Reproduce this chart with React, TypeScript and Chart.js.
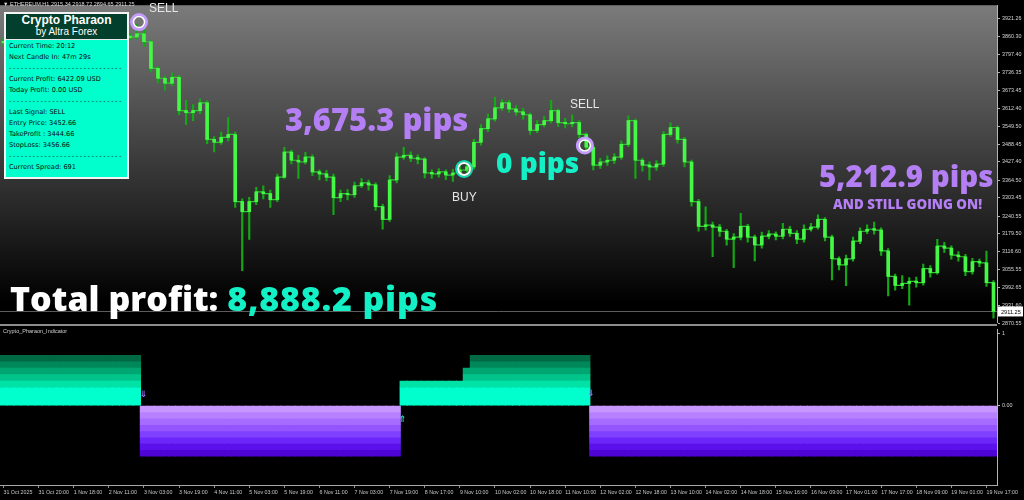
import React, { useEffect, useRef } from 'react';
import { Chart, registerables } from 'chart.js';
Chart.register(...registerables);

// ---------- data ----------
const chartTitle = '\u25BC ETHEREUM,H1  2915.34 2918.72 2894.65 2911.25';
const indicatorName = 'Crypto_Pharaon_Indicator';
const xTickLabels = ['31 Oct 2025', '31 Oct 20:00', '1 Nov 18:00', '2 Nov 11:00', '3 Nov 03:00', '3 Nov 19:00', '4 Nov 11:00', '5 Nov 03:00', '5 Nov 19:00', '6 Nov 11:00', '7 Nov 03:00', '7 Nov 19:00', '8 Nov 17:00', '9 Nov 10:00', '10 Nov 02:00', '10 Nov 18:00', '11 Nov 10:00', '12 Nov 02:00', '12 Nov 18:00', '13 Nov 10:00', '14 Nov 02:00', '14 Nov 18:00', '15 Nov 16:00', '16 Nov 09:00', '17 Nov 01:00', '17 Nov 17:00', '18 Nov 09:00', '19 Nov 01:00', '19 Nov 17:00'];
const barsPerTick = 5;
const priceTicks = [3921.26, 3860.30, 3797.40, 3736.35, 3673.45, 3612.40, 3549.50, 3488.45, 3427.40, 3364.50, 3303.45, 3240.55, 3179.50, 3116.60, 3055.55, 2992.65, 2931.60, 2870.55];
const priceMin = 2874.9;
const priceMax = 3967.9;
const firstOpen = 3838;
const closes = [
  3842, 3849, 3835, 3828, 3842, 3852, 3859, 3845, 3835, 3822,
  3832, 3842, 3849, 3856, 3845, 3852, 3862, 3856, 3859, 3869,
  3842, 3750, 3716, 3699, 3719, 3604, 3597, 3604, 3631, 3505,
  3495, 3512, 3522, 3290, 3256, 3290, 3324, 3318, 3297, 3375,
  3461, 3433, 3427, 3444, 3393, 3386, 3375, 3304, 3318, 3314,
  3345, 3355, 3348, 3273, 3229, 3365, 3444, 3450, 3440, 3437,
  3389, 3386, 3393, 3382, 3389, 3399, 3410, 3495, 3542, 3576,
  3614, 3631, 3610, 3600, 3590, 3536, 3556, 3570, 3604, 3563,
  3559, 3563, 3522, 3478, 3416, 3427, 3433, 3444, 3488, 3570,
  3433, 3416, 3410, 3420, 3522, 3546, 3505, 3427, 3290, 3205,
  3209, 3202, 3188, 3161, 3168, 3205, 3168, 3141, 3171, 3178,
  3171, 3195, 3181, 3161, 3195, 3202, 3229, 3168, 3093, 3072,
  3093, 3154, 3188, 3195, 3192, 3120, 3032, 3001, 3008, 3015,
  3011, 3059, 3045, 3137, 3130, 3106, 3100, 3049, 3083, 3079,
  3011, 2911.25,
];
const highs = [
  3856, 3862, 3858, 3844, 3853, 3866, 3872, 3868, 3852, 3841,
  3843, 3855, 3861, 3868, 3864, 3862, 3874, 3869, 3871, 3903,
  3886, 3848, 3756, 3724, 3735, 3726, 3640, 3625, 3645, 3638,
  3515, 3530, 3580, 3530, 3300, 3305, 3340, 3345, 3330, 3385,
  3478, 3468, 3450, 3460, 3452, 3400, 3398, 3385, 3330, 3332,
  3358, 3370, 3365, 3355, 3282, 3380, 3458, 3478, 3462, 3452,
  3442, 3400, 3404, 3400, 3402, 3412, 3425, 3505, 3556, 3592,
  3650, 3642, 3640, 3622, 3612, 3596, 3570, 3584, 3640, 3610,
  3578, 3590, 3570, 3528, 3484, 3440, 3448, 3456, 3500, 3586,
  3576, 3440, 3428, 3432, 3532, 3562, 3552, 3512, 3434, 3298,
  3272, 3220, 3212, 3195, 3180, 3250, 3212, 3175, 3185, 3190,
  3186, 3215, 3205, 3190, 3210, 3215, 3245, 3235, 3175, 3100,
  3106, 3168, 3200, 3210, 3220, 3200, 3128, 3040, 3035, 3028,
  3030, 3075, 3070, 3160, 3150, 3138, 3118, 3108, 3095, 3092,
  3120, 3018,
];
const lows = [
  3826, 3835, 3822, 3815, 3820, 3834, 3845, 3836, 3824, 3809,
  3812, 3826, 3834, 3841, 3836, 3838, 3845, 3846, 3848, 3850,
  3826, 3738, 3700, 3675, 3690, 3590, 3556, 3570, 3594, 3490,
  3462, 3488, 3500, 3270, 3052, 3160, 3280, 3300, 3270, 3290,
  3370, 3420, 3370, 3420, 3380, 3365, 3362, 3245, 3290, 3296,
  3305, 3338, 3330, 3260, 3195, 3222, 3355, 3436, 3428, 3420,
  3372, 3370, 3375, 3366, 3360, 3380, 3392, 3402, 3485, 3532,
  3568, 3605, 3598, 3588, 3575, 3522, 3528, 3548, 3562, 3550,
  3545, 3548, 3510, 3466, 3400, 3405, 3415, 3422, 3436, 3480,
  3370, 3395, 3365, 3398, 3412, 3515, 3492, 3410, 3275, 3188,
  3192, 3100, 3170, 3140, 3062, 3158, 3150, 3086, 3130, 3162,
  3158, 3162, 3170, 3145, 3150, 3188, 3195, 3155, 3020, 3055,
  3000, 3085, 3145, 3180, 3178, 3105, 2965, 2985, 2990, 2933,
  2995, 3002, 3030, 3040, 3115, 3092, 3085, 3035, 3040, 3066,
  2998, 2888,
];
const lastPrice = 2911.25;
const signalNames = ['SELL', 'BUY', 'SELL'];
const signalBar = [19.3, 65.6, 82.8];
const signalPrice = [3910, 3403, 3484];

// indicator panel
const segStart = [0, 20, 57, 66, 67, 84];
const segEnd = [19, 56, 65, 66, 83, 141];
const segTiers = [6, -8, 2, 4, 6, -8];
const greenBandHeights = [0.25, 0.089, 0.089, 0.089, 0.089, 0.089];
const purpleBandHeights = [0.087, 0.087, 0.087, 0.087, 0.087, 0.087, 0.087, 0.087];
const indicatorTicks = [1, 0];
const indMin = -1.095;
const indMax = 1.054;
const arrowBar = [19.9, 56.8, 83.6];
const arrowLevel = [0.15, -0.19, 0.16];
const arrowDir = ['down', 'up', 'down'];

// info panel
const panelTitle = 'Crypto Pharaon';
const panelSubtitle = 'by Altra Forex';
const panelLines = ['Current Time: 20:12', 'Next Candle In: 47m 29s', '-', 'Current Profit: 6422.09 USD', 'Today Profit: 0.00 USD', '-', 'Last Signal: SELL', 'Entry Price: 3452.66', 'TakeProfit : 3444.66', 'StopLoss: 3456.66', '-', 'Current Spread: 691'];
const separatorText = '-----------------------------';

// ---------- styles ----------
const greenColors = ['#00ffcc', '#00e2a6', '#00c48b', '#00a672', '#00885a', '#006a44'];
const purpleColors = ['#c896ff', '#b780ff', '#a66bff', '#9455ff', '#8040ff', '#6d26fa', '#5c10ec', '#4e04d4'];
const PURPLE = '#b47ef4';
const TEAL = '#14f0c6';
const BIG_FONT = "'Open Sans', 'DejaVu Sans', sans-serif";
const SMALL_FONT = "'Liberation Sans', Arial, sans-serif";
const X_MIN = -0.5;
const X_MAX = closes.length - 0.5;

export default function App() {
  const mainRef = useRef<HTMLCanvasElement>(null);
  const indRef = useRef<HTMLCanvasElement>(null);

  useEffect(() => {
    const opens = closes.map((c, i) => (i === 0 ? firstOpen : closes[i - 1]));
    const wickData = closes.map((_, i) => ({ x: i, y: [lows[i], highs[i]] }));
    const bodyData = closes.map((c, i) => ({ x: i, y: [opens[i], c] }));
    const closeLine = closes.map((c, i) => ({ x: i, y: c }));
    const sellPts = signalNames.map((n, k) => (n === 'SELL' ? { x: signalBar[k], y: signalPrice[k] } : null)).filter(Boolean);
    const buyPts = signalNames.map((n, k) => (n === 'BUY' ? { x: signalBar[k], y: signalPrice[k] } : null)).filter(Boolean);

    const mainPlugin = {
      id: 'mainDecor',
      beforeDraw(chart: any) {
        const { ctx, chartArea: a } = chart;
        const g = ctx.createLinearGradient(0, a.top, 0, a.bottom);
        g.addColorStop(0, '#7b7b7b');
        g.addColorStop(0.94, '#000000');
        g.addColorStop(1, '#000000');
        ctx.save();
        ctx.fillStyle = g;
        ctx.fillRect(a.left, a.top, a.right - a.left, a.bottom - a.top);
        ctx.restore();
      },
      beforeDatasetsDraw(chart: any) {
        const { ctx, chartArea: a } = chart;
        const y = Math.round(chart.scales.y.getPixelForValue(lastPrice)) + 0.5;
        ctx.save();
        ctx.strokeStyle = '#5c5c5c';
        ctx.lineWidth = 1;
        ctx.beginPath();
        ctx.moveTo(a.left, y);
        ctx.lineTo(a.right, y);
        ctx.stroke();
        ctx.restore();
      },
      afterDraw(chart: any) {
        const { ctx, chartArea: a } = chart;
        const y = chart.scales.y.getPixelForValue(lastPrice);
        ctx.save();
        ctx.fillStyle = '#ffffff';
        ctx.fillRect(a.right + 1, y - 5, 25, 10);
        ctx.fillStyle = '#000000';
        ctx.font = '5.6px "Liberation Sans"';
        ctx.textBaseline = 'middle';
        ctx.fillText(lastPrice.toFixed(2), a.right + 4, y + 0.5);
        ctx.restore();
      },
    };

    const main = new Chart(mainRef.current as HTMLCanvasElement, {
      type: 'bar',
      data: {
        datasets: [
          { type: 'scatter', data: sellPts, pointRadius: 5.5, pointBorderWidth: 1.5, pointBorderColor: '#ffffff', pointBackgroundColor: 'rgba(0,0,0,0)', order: 0 } as any,
          { type: 'scatter', data: sellPts, pointRadius: 7.5, pointBorderWidth: 3, pointBorderColor: '#c49cff', pointBackgroundColor: 'rgba(0,0,0,0)', order: 1 } as any,
          { type: 'scatter', data: buyPts, pointRadius: 6, pointBorderWidth: 2, pointBorderColor: '#f2fffb', pointBackgroundColor: 'rgba(0,0,0,0)', order: 0 } as any,
          { type: 'scatter', data: buyPts, pointRadius: 8, pointBorderWidth: 2, pointBorderColor: '#10d8b0', pointBackgroundColor: 'rgba(0,0,0,0)', order: 1 } as any,
          { type: 'bar', data: bodyData, backgroundColor: '#46f846', barThickness: 3, grouped: false, minBarLength: 1.5, order: 3 } as any,
          { type: 'line', data: closeLine, borderColor: '#2cc82c', borderWidth: 1.2, pointRadius: 0, stepped: 'before', order: 4 } as any,
          { type: 'bar', data: wickData, backgroundColor: '#14a814', barThickness: 1.5, grouped: false, order: 5 } as any,
        ],
      },
      options: {
        animation: false,
        responsive: true,
        maintainAspectRatio: false,
        layout: { autoPadding: false, padding: { top: 1, bottom: 8, left: 0, right: 0 } },
        plugins: { legend: { display: false }, tooltip: { enabled: false } },
        scales: {
          x: { type: 'linear', min: X_MIN, max: X_MAX, display: false, offset: false },
          y: {
            position: 'right',
            min: priceMin,
            max: priceMax,
            afterFit: (s: any) => { s.width = 27; },
            afterBuildTicks: (s: any) => { s.ticks = priceTicks.map((v) => ({ value: v })); },
            ticks: { callback: (v: any) => Number(v).toFixed(2), color: '#d6d6d6', font: { family: 'Liberation Sans', size: 5.4 }, padding: 2 },
            grid: { drawOnChartArea: false, drawTicks: true, tickLength: 3, color: '#b4b4b4' },
            border: { display: true, color: '#b4b4b4' },
          },
        },
      } as any,
      plugins: [mainPlugin],
    });

    // indicator datasets
    const tierAt = (i: number) => {
      for (let s = 0; s < segStart.length; s++) if (i >= segStart[s] && i <= segEnd[s]) return segTiers[s];
      return 0;
    };
    const idx = closes.map((_, i) => i);
    const greenSets = greenBandHeights.map((h, k) => ({
      type: 'bar',
      data: idx.filter((i) => tierAt(i) >= k + 1).map((i) => ({ x: i, y: h })),
      backgroundColor: greenColors[k],
      barThickness: 7.6,
      borderWidth: 0,
      stack: 'sig',
    }));
    const purpleSets = purpleBandHeights.map((h, k) => ({
      type: 'bar',
      data: idx.filter((i) => tierAt(i) <= -(k + 1)).map((i) => ({ x: i, y: -h })),
      backgroundColor: purpleColors[k],
      barThickness: 7.6,
      borderWidth: 0,
      stack: 'sig',
    }));

    const arrowPlugin = {
      id: 'arrows',
      afterDatasetsDraw(chart: any) {
        const { ctx } = chart;
        ctx.save();
        ctx.font = 'bold 9px "DejaVu Sans"';
        ctx.textAlign = 'center';
        ctx.textBaseline = 'middle';
        arrowBar.forEach((b, k) => {
          const x = chart.scales.x.getPixelForValue(b);
          const y = chart.scales.y.getPixelForValue(arrowLevel[k]);
          ctx.fillStyle = arrowDir[k] === 'down' ? '#a46cff' : '#18e8c0';
          ctx.fillText(arrowDir[k] === 'down' ? '\u21D3' : '\u21D1', x, y);
        });
        ctx.restore();
      },
    };

    const ind = new Chart(indRef.current as HTMLCanvasElement, {
      type: 'bar',
      data: { datasets: [...greenSets, ...purpleSets] as any },
      options: {
        animation: false,
        responsive: true,
        maintainAspectRatio: false,
        layout: { autoPadding: false, padding: { top: 2, bottom: 0, left: 0, right: 0 } },
        plugins: { legend: { display: false }, tooltip: { enabled: false } },
        scales: {
          x: {
            type: 'linear',
            min: X_MIN,
            max: X_MAX,
            offset: false,
            stacked: true,
            afterFit: (s: any) => { s.height = 15; },
            afterBuildTicks: (s: any) => { s.ticks = xTickLabels.map((_, k) => ({ value: k * barsPerTick })); },
            ticks: { align: 'start', autoSkip: false, maxRotation: 0, callback: (_v: any, i: number) => xTickLabels[i], color: '#c8c8c8', font: { family: 'Liberation Sans', size: 5.3 }, padding: 1 },
            grid: { drawOnChartArea: false, drawTicks: true, tickLength: 3, color: '#909090', offset: false },
            border: { display: true, color: '#a8a8a8' },
          },
          y: {
            position: 'right',
            stacked: true,
            min: indMin,
            max: indMax,
            afterFit: (s: any) => { s.width = 27; },
            afterBuildTicks: (s: any) => { s.ticks = indicatorTicks.map((v) => ({ value: v })); },
            ticks: { callback: (v: any) => (Number(v) === 0 ? '0.00' : String(v)), color: '#d6d6d6', font: { family: 'Liberation Sans', size: 5.4 }, padding: 2 },
            grid: { drawOnChartArea: false, drawTicks: true, tickLength: 3, color: '#b4b4b4' },
            border: { display: true, color: '#b4b4b4' },
          },
        },
      } as any,
      plugins: [arrowPlugin],
    });

    return () => {
      main.destroy();
      ind.destroy();
    };
  }, []);

  const abs = (left: number, top: number, extra: React.CSSProperties = {}): React.CSSProperties => ({
    position: 'absolute', left, top, whiteSpace: 'nowrap', lineHeight: 1, zIndex: 5, ...extra,
  });

  return (
    <div style={{ position: 'fixed', left: 0, top: 0, width: 1024, height: 500, background: '#000', overflow: 'hidden' }}>
      <div style={{ position: 'absolute', left: 0, top: 324, width: 1024, height: 176 }}>
        <canvas ref={indRef} />
      </div>
      <div style={{ position: 'absolute', left: 0, top: 324, width: 997, height: 2, background: '#8c8c8c', zIndex: 2 }} />
      <div style={{ position: 'absolute', left: 0, top: 0, width: 1024, height: 330, zIndex: 3 }}>
        <canvas ref={mainRef} />
      </div>

      <div style={abs(3, 2, { fontFamily: SMALL_FONT, fontSize: 5.5, color: '#dcdcdc' })}>{chartTitle}</div>
      <div style={abs(3, 329, { fontFamily: SMALL_FONT, fontSize: 5.5, color: '#cfcfcf' })}>{indicatorName}</div>

      {/* info panel */}
      <div style={{ position: 'absolute', left: 4, top: 12, width: 121, height: 163, border: '2px solid #f4f4f4', background: '#00ffcc', zIndex: 6 }}>
        <div style={{ background: '#023f2c', height: 25, color: '#fff', textAlign: 'center', borderBottom: '1px solid #e8e8e8' }}>
          <div style={{ fontFamily: SMALL_FONT, fontWeight: 700, fontSize: 12, lineHeight: '13px' }}>{panelTitle}</div>
          <div style={{ fontFamily: SMALL_FONT, fontSize: 10, lineHeight: '10px' }}>{panelSubtitle}</div>
        </div>
        <div style={{ paddingTop: 1, paddingLeft: 3, fontFamily: "'DejaVu Sans', sans-serif", fontSize: 6.6, color: '#0a0a0a' }}>
          {panelLines.map((l, k) => (
            <div key={k} style={{ height: 11, lineHeight: '11px', whiteSpace: 'nowrap', letterSpacing: l === '-' ? 1.55 : 0 }}>
              {l === '-' ? separatorText : l}
            </div>
          ))}
        </div>
      </div>

      {/* signal labels */}
      <div style={abs(149, 2, { fontFamily: SMALL_FONT, fontSize: 12, color: '#e6e6e6' })}>{signalNames[0]}</div>
      <div style={abs(452, 191, { fontFamily: SMALL_FONT, fontSize: 12, color: '#e6e6e6' })}>{signalNames[1]}</div>
      <div style={abs(570, 98, { fontFamily: SMALL_FONT, fontSize: 12, color: '#e6e6e6' })}>{signalNames[2]}</div>

      {/* result annotations */}
      <div style={abs(285, 104, { fontFamily: BIG_FONT, fontWeight: 800, fontSize: 31, color: PURPLE })}>3,675.3 pips</div>
      <div style={abs(496, 148, { fontFamily: BIG_FONT, fontWeight: 800, fontSize: 28, color: TEAL })}>0 pips</div>
      <div style={abs(819, 161, { fontFamily: BIG_FONT, fontWeight: 800, fontSize: 29.5, color: PURPLE })}>5,212.9 pips</div>
      <div style={abs(833, 198, { fontFamily: BIG_FONT, fontWeight: 800, fontSize: 13.4, color: PURPLE })}>AND STILL GOING ON!</div>
      <div style={abs(10, 281, { fontFamily: BIG_FONT, fontWeight: 800, fontSize: 34, color: '#ffffff' })}>
        Total profit: <span style={{ color: TEAL, letterSpacing: 0.8 }}>8,888.2 pips</span>
      </div>
    </div>
  );
}
